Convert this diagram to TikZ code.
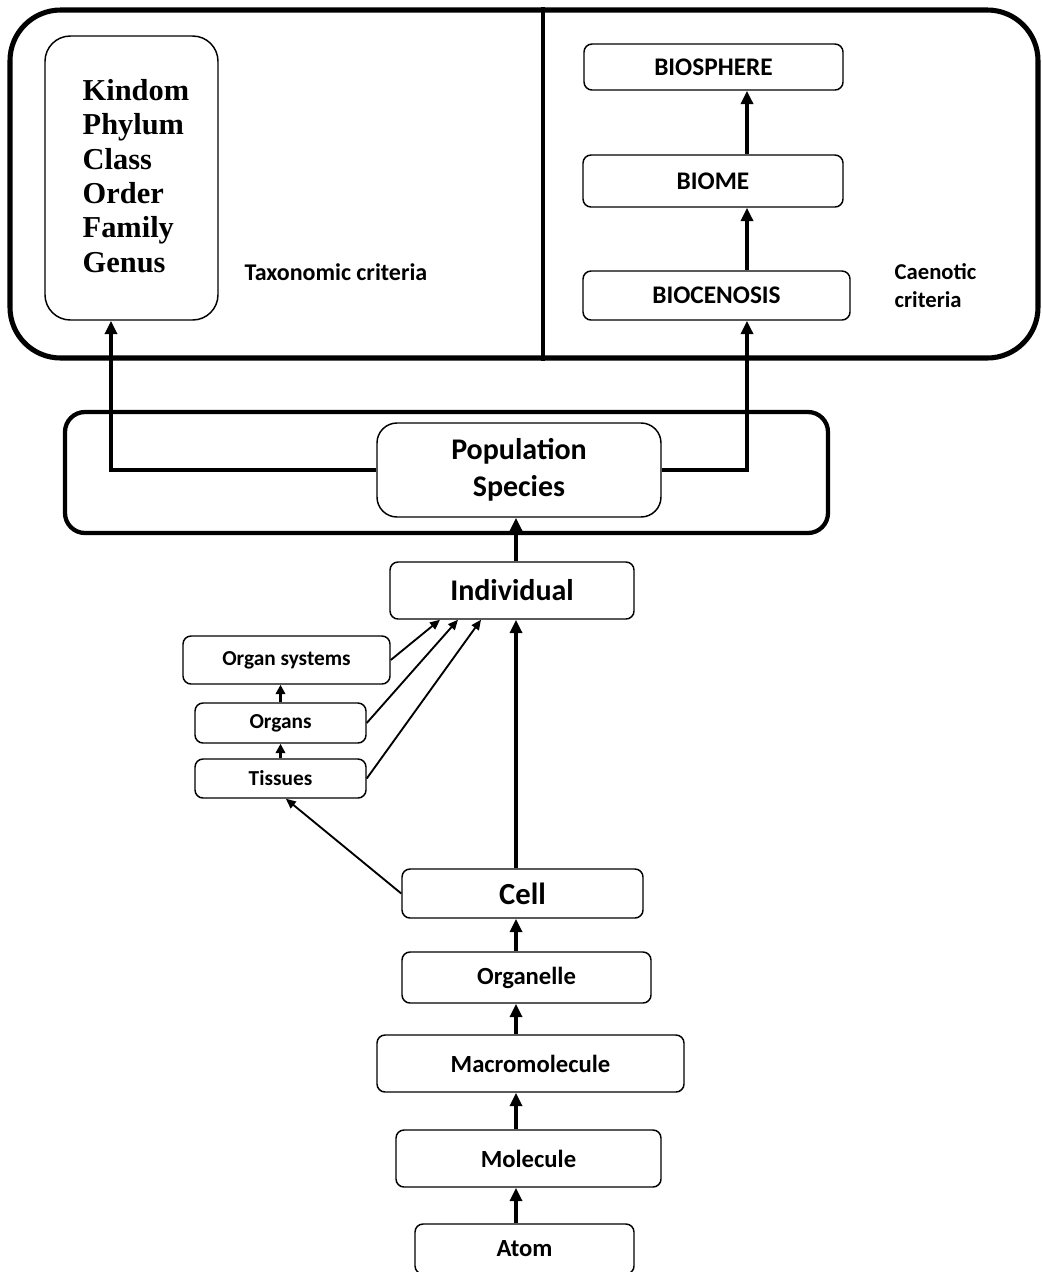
\documentclass[tikz,border=0pt]{standalone}
\usepackage{fontspec}
\setmainfont{Carlito}
\newfontfamily\timesfont{Liberation Serif}
\usetikzlibrary{arrows.meta,calc}
\begin{document}
\begin{tikzpicture}[x=0.75pt,y=-0.75pt,
  box/.style={draw, line width=1.1pt, rounded corners=6pt, inner sep=0pt, font=\bfseries},
  frame/.style={draw, line width=3.8pt, inner sep=0pt},
  thk/.style={line width=3.2pt, -{Triangle[width=9pt,length=10pt]}},
  thn/.style={line width=1.4pt, -{Triangle[width=6.5pt,length=7.5pt]}},
  sml/.style={line width=2.2pt, -{Triangle[width=7pt,length=7pt]}},
  fbig/.style={font=\bfseries\fontsize{22.5}{27.75}\selectfont},
  fmid/.style={font=\bfseries\fontsize{18.5}{22}\selectfont},
  fsml/.style={font=\bfseries\fontsize{16}{19}\selectfont},
]
\useasboundingbox (0,0) rectangle (1042,1272);

% top frame
\node[frame, rounded corners=38pt, minimum width=771pt, minimum height=261pt] (topframe) at (524,184) {};
\coordinate (divx) at (543,0);
\draw[line width=3.2pt] (topframe.north -| divx) -- (topframe.south -| divx);

% taxonomy box
\node[box, rounded corners=19pt, minimum width=129.75pt, minimum height=213pt] (tax) at (131.5,178) {};
\node[anchor=west, align=left, font=\timesfont\bfseries\fontsize{22.8}{25.8}\selectfont] (taxlist) at (78,176)
  {Kindom\\Phylum\\Class\\Order\\Family\\Genus};
\node[font=\bfseries\fontsize{18}{20}\selectfont] (taxcrit) at (336,272) {Taxonomic criteria};

% caenotic boxes
\node[box, font=\bfseries\fontsize{19}{22}\selectfont, minimum width=194.25pt, minimum height=34.5pt] (bios) at (713.5,67) {BIOSPHERE};
\node[box, font=\bfseries\fontsize{19}{22}\selectfont, minimum width=195pt, minimum height=39pt] (biome) at (713,181) {BIOME};
\node[box, font=\bfseries\fontsize{19}{22}\selectfont, minimum width=200.25pt, minimum height=36.75pt] (bioc) at (716.5,295.5) {BIOCENOSIS};
\node[anchor=west, align=left, font=\bfseries\fontsize{17}{21}\selectfont] (caen) at (890,286) {Caenotic\\criteria};

\coordinate (rx) at (747,0);
\coordinate (lx) at (111,0);
\coordinate (sx) at (516,0);

\draw[thk] (biome.north -| rx) -- (bios.south -| rx);
\draw[thk] (bioc.north -| rx) -- (biome.south -| rx);

% population frame
\node[frame, line width=3.2pt, rounded corners=15pt, minimum width=572.25pt, minimum height=90.75pt] (popframe) at (446.5,472.5) {};
\node[box, fbig, align=center, rounded corners=15pt, minimum width=213pt, minimum height=70.5pt] (pop) at (519,470) {Population\\Species};

\draw[thk] (pop.west) -| (tax.south -| lx);
\draw[thk] (pop.east) -| (bioc.south -| rx);

% individual and organs
\node[box, fbig, minimum width=183pt, minimum height=42.75pt] (indiv) at (512,590.5) {Individual};
\draw[thk] (indiv.north -| sx) -- (pop.south -| sx);

\node[box, fsml, minimum width=155.25pt, minimum height=36pt] (orgsys) at (286.5,660) {Organ systems};
\node[box, fsml, minimum width=128.25pt, minimum height=30pt] (organs) at (280.5,723) {Organs};
\node[box, fsml, minimum width=128.25pt, minimum height=29.25pt] (tissues) at (280.5,778.5) {Tissues};

\coordinate (i1) at ([xshift=-54pt]indiv.south);
\coordinate (i2) at ([xshift=-40.5pt]indiv.south);
\coordinate (i3) at ([xshift=-23.25pt]indiv.south);
\draw[thn] (orgsys.east) -- (i1);
\draw[thn] (organs.east) -- (i2);
\draw[thn] (tissues.east) -- (i3);

\draw[sml] (organs.north) -- (organs.north |- orgsys.south);
\draw[sml] (tissues.north) -- (tissues.north |- organs.south);

% cell chain
\node[box, font=\bfseries\fontsize{23}{27}\selectfont, minimum width=180.75pt, minimum height=36.75pt] (cell) at (522.5,893.5) {Cell};
\draw[thk] (cell.north -| sx) -- (indiv.south -| sx);
\draw[thn] (cell.west) -- ([xshift=4pt]tissues.south);

\node[box, fmid, minimum width=186.75pt, minimum height=38.25pt] (organelle) at (526.5,977.5) {Organelle};
\node[box, fmid, minimum width=230.25pt, minimum height=42.75pt] (macro) at (530.5,1063.5) {Macromolecule};
\node[box, fmid, minimum width=198.75pt, minimum height=42.75pt] (molecule) at (528.5,1158.5) {Molecule};
\node[box, fmid, minimum width=164.25pt, minimum height=37.5pt] (atom) at (524.5,1249) {Atom};

\draw[thk] (organelle.north -| sx) -- (cell.south -| sx);
\draw[thk] (macro.north -| sx) -- (organelle.south -| sx);
\draw[thk] (molecule.north -| sx) -- (macro.south -| sx);
\draw[thk] (atom.north -| sx) -- (molecule.south -| sx);
\end{tikzpicture}
\end{document}
